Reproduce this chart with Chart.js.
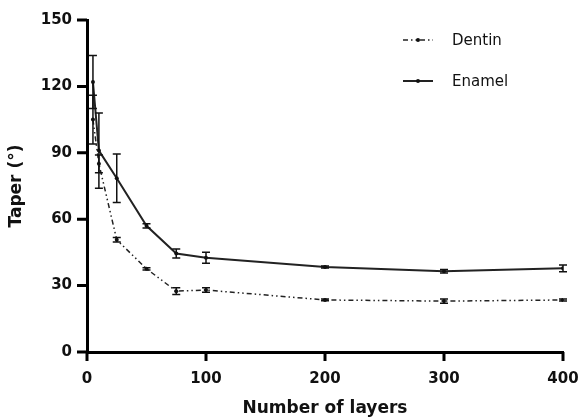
<!DOCTYPE html>
<html>
<head>
<meta charset="utf-8">
<script src="https://cdn.jsdelivr.net/npm/chart.js@4.4.1/dist/chart.umd.min.js"></script>
<style>
html,body{margin:0;padding:0;background:#fff;}
#wrap{width:584px;height:419px;}
</style>
</head>
<body>
<div id="wrap"><canvas id="c" width="584" height="419"></canvas></div>
<script>
const layers = [5, 10, 25, 50, 75, 100, 200, 300, 400];
const dentinTaper = [105, 85, 50.7, 37.6, 27.5, 28, 23.5, 23, 23.5];
const dentinErr   = [11, 4, 1, 0.5, 1.5, 1, 0.4, 1, 0.5];
const enamelTaper = [122, 91, 78.5, 57, 44.5, 42.6, 38.4, 36.5, 37.8];
const enamelErr   = [12, 17, 11, 1, 2, 2.5, 0.4, 0.8, 1.5];
const yTicks = [0, 30, 60, 90, 120, 150];
const xTicks = [0, 100, 200, 300, 400];

const FONT = "'DejaVu Sans', 'Liberation Sans', Arial, sans-serif";

const errorBars = {
  id: 'errorBars',
  afterDatasetsDraw(chart) {
    const ctx = chart.ctx;
    const xs = chart.scales.x, ys = chart.scales.y;
    chart.data.datasets.forEach(ds => {
      ctx.save();
      ctx.strokeStyle = '#111';
      ctx.lineWidth = 1.5;
      ds.data.forEach((p, i) => {
        const e = ds.errors[i];
        const px = xs.getPixelForValue(p.x);
        const top = ys.getPixelForValue(p.y + e);
        const bot = ys.getPixelForValue(p.y - e);
        ctx.beginPath();
        ctx.moveTo(px, top); ctx.lineTo(px, bot);
        ctx.moveTo(px - 4, top); ctx.lineTo(px + 4, top);
        ctx.moveTo(px - 4, bot); ctx.lineTo(px + 4, bot);
        ctx.stroke();
      });
      ctx.restore();
    });
  }
};

const axisTicks = {
  id: 'axisTicks',
  afterDraw(chart) {
    const ctx = chart.ctx;
    const xs = chart.scales.x, ys = chart.scales.y;
    const a = chart.chartArea;
    ctx.save();
    ctx.strokeStyle = '#000';
    ctx.lineWidth = 3;
    ctx.beginPath();
    xTicks.forEach(v => {
      const px = xs.getPixelForValue(v);
      ctx.moveTo(px, a.bottom); ctx.lineTo(px, a.bottom + 9);
    });
    yTicks.forEach(v => {
      const py = ys.getPixelForValue(v);
      ctx.moveTo(a.left, py); ctx.lineTo(a.left - 10, py);
    });
    ctx.stroke();
    ctx.restore();
  }
};

const customLegend = {
  id: 'customLegend',
  afterDraw(chart) {
    const ctx = chart.ctx;
    const rows = [{y: 40}, {y: 81}];
    chart.data.datasets.forEach((ds, i) => {
      const y = rows[i].y;
      ctx.save();
      ctx.strokeStyle = ds.borderColor;
      ctx.lineWidth = ds.borderWidth;
      ctx.setLineDash(ds.borderDash || []);
      ctx.beginPath();
      ctx.moveTo(403, y); ctx.lineTo(433, y);
      ctx.stroke();
      ctx.setLineDash([]);
      ctx.fillStyle = '#111';
      ctx.beginPath();
      ctx.arc(418, y, 2, 0, Math.PI * 2);
      ctx.fill();
      ctx.font = "15px " + FONT;
      ctx.textBaseline = 'middle';
      ctx.fillText(ds.label, 452, y + 1);
      ctx.restore();
    });
  }
};

new Chart(document.getElementById('c'), {
  type: 'line',
  data: {
    datasets: [
      {
        label: 'Dentin',
        data: layers.map((x, i) => ({x: x, y: dentinTaper[i]})),
        errors: dentinErr,
        borderColor: '#222',
        backgroundColor: '#111',
        borderWidth: 1.5,
        borderDash: [5, 3, 1.5, 3, 1.5, 3],
        pointRadius: 2,
        pointBorderWidth: 0,
        tension: 0
      },
      {
        label: 'Enamel',
        data: layers.map((x, i) => ({x: x, y: enamelTaper[i]})),
        errors: enamelErr,
        borderColor: '#222',
        backgroundColor: '#111',
        borderWidth: 2,
        pointRadius: 2,
        pointBorderWidth: 0,
        tension: 0
      }
    ]
  },
  options: {
    responsive: false,
    animation: false,
    layout: {padding: {top: 20, right: 21, left: 0, bottom: 0}},
    plugins: {legend: {display: false}, tooltip: {enabled: false}},
    scales: {
      x: {
        type: 'linear',
        min: 0, max: 400,
        afterBuildTicks: s => { s.ticks = xTicks.map(v => ({value: v})); },
        afterFit: s => { s.height = 67; s.paddingLeft = 0; s.paddingRight = 0; },
        border: {display: true, color: '#000', width: 3},
        grid: {display: false},
        ticks: {color: '#111', padding: 10, maxRotation: 0, font: {family: FONT, size: 15, weight: 'bold'}},
        title: {display: true, text: 'Number of layers', color: '#111', padding: {top: 4, bottom: 0}, font: {family: FONT, size: 17, weight: 'bold'}}
      },
      y: {
        type: 'linear',
        min: 0, max: 150,
        afterBuildTicks: s => { s.ticks = yTicks.map(v => ({value: v})); },
        afterFit: s => { s.width = 87; s.paddingTop = 0; s.paddingBottom = 0; },
        border: {display: true, color: '#000', width: 3},
        grid: {display: false},
        ticks: {color: '#111', padding: 7, font: {family: FONT, size: 15, weight: 'bold'}},
        title: {display: true, text: 'Taper (°)', color: '#111', padding: {top: 6, bottom: 0}, font: {family: FONT, size: 17, weight: 'bold'}}
      }
    }
  },
  plugins: [errorBars, axisTicks, customLegend]
});
</script>
</body>
</html>
